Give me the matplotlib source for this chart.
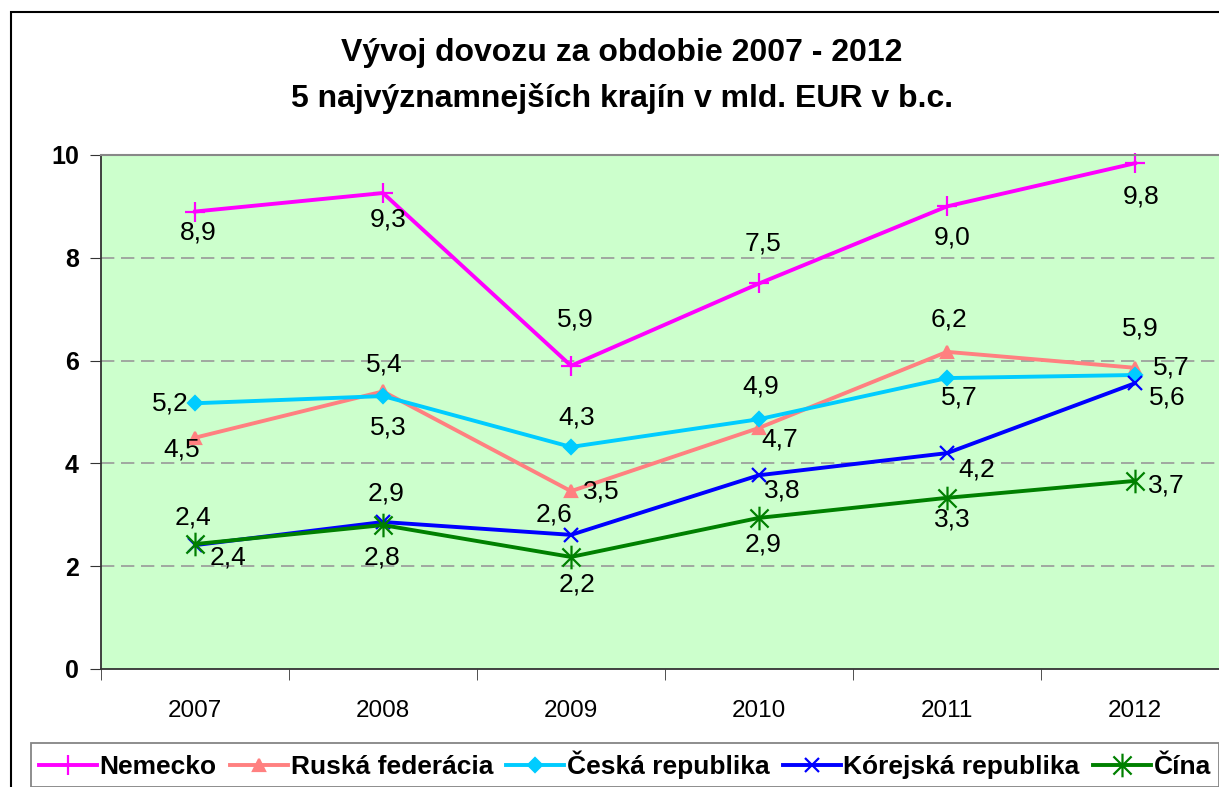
import matplotlib
matplotlib.use("Agg")
import matplotlib.pyplot as plt
import matplotlib.patches as mpatches
from matplotlib.path import Path
import numpy as np

plt.rcParams['font.family'] = ['Liberation Sans', 'DejaVu Sans']

# data
years = ['2007', '2008', '2009', '2010', '2011', '2012']
nemecko = [8.9, 9.26, 5.9, 7.5, 9.0, 9.84]
ruska = [4.5, 5.4, 3.46, 4.69, 6.17, 5.86]
ceska = [5.17, 5.31, 4.32, 4.86, 5.66, 5.72]
korea = [2.41, 2.86, 2.61, 3.77, 4.2, 5.56]
cina = [2.43, 2.8, 2.18, 2.94, 3.33, 3.66]

# label offsets in pixels (dx, dy) for each point
off_nemecko = [(3, -21), (5, -26), (4, 46), (4, 40), (5, -31), (6, -33)]
off_ruska = [(-13, -12), (1, 27), (30, 0), (21, -12), (2, 32), (5, 39)]
off_ceska = [(-25, 0), (5, -31), (6, 29), (2, 33), (12, -19), (36, 7)]
off_korea = [(-2, 28), (3, 28), (-17, 20), (23, -15), (30, -16), (32, -14)]
off_cina = [(33, -13), (-1, -32), (6, -28), (4, -27), (5, -22), (31, -5)]

# asterisk marker like Excel: X plus vertical bar
star = Path([(-1, -1), (1, 1), (-1, 1), (1, -1), (0, -1.3), (0, 1.3)],
            [Path.MOVETO, Path.LINETO, Path.MOVETO, Path.LINETO, Path.MOVETO, Path.LINETO])

series = [
    ('Nemecko', nemecko, '#FF00FF', '+', 15, off_nemecko),
    ('Ruská federácia', ruska, '#FF8080', '^', 9, off_ruska),
    ('Česká republika', ceska, '#00CCFF', 'D', 7, off_ceska),
    ('Kórejská republika', korea, '#0000FF', 'x', 10, off_korea),
    ('Čína', cina, '#008000', star, 17, off_cina),
]

fig = plt.figure(figsize=(12.19, 7.87), dpi=100)
ax = fig.add_axes([101/1219, 118/787, 1128/1219, 514/787])
ax.set_facecolor('#CCFFCC')

x = np.arange(len(years))
for name, vals, col, mk, ms, offs in series:
    ax.plot(x, vals, color=col, lw=2.8, marker=mk, markersize=ms,
            markeredgewidth=1.6, markerfacecolor=col, markeredgecolor=col,
            label=name, clip_on=False)
    for xi, v, (dx, dy) in zip(x, vals, offs):
        ax.annotate(f"{v:.1f}".replace('.', ','), (xi, v), xytext=(dx, dy),
                    textcoords='offset pixels', ha='center', va='center',
                    fontsize=19, color='black')

ax.set_xlim(-0.5, len(years) - 0.5)
ax.set_ylim(0, 10)
ax.set_yticks([0, 2, 4, 6, 8, 10])
ax.set_yticklabels(['0', '2', '4', '6', '8', '10'], fontweight='bold', fontsize=18)
ax.set_xticks(x)
ax.set_xticklabels(years, fontsize=17.5)
ax.set_xticks(np.arange(-0.5, len(years)), minor=True)
ax.tick_params(axis='x', which='major', length=0, pad=22)
ax.tick_params(axis='x', which='minor', length=8, direction='out', color='#333333')
ax.tick_params(axis='y', length=8, direction='out', color='#333333', pad=8)
for yv in [2, 4, 6, 8]:
    ax.axhline(yv, color='#999999', lw=1.2, dashes=(8, 4), zorder=0.5)
for s in ['left', 'bottom']:
    ax.spines[s].set_color('#333333')
    ax.spines[s].set_linewidth(1.3)
ax.spines['top'].set_color('#888888')
ax.spines['top'].set_linewidth(1.5)
ax.spines['right'].set_visible(False)

fig.text(622/1219, 1 - 53/787, 'Vývoj dovozu za obdobie 2007 - 2012',
         ha='center', va='center', fontsize=23, fontweight='bold')
fig.text(622/1219, 1 - 98/787, '5 najvýznamnejších krajín v mld. EUR v b.c.',
         ha='center', va='center', fontsize=23, fontweight='bold')

fig.patches.append(mpatches.Rectangle((11/1219, -0.1), 2, 1 - 12/787 + 0.1,
                                      transform=fig.transFigure, fill=False,
                                      edgecolor='black', lw=1.5))

leg = fig.legend(loc='upper left', bbox_to_anchor=(31/1219, 1 - 743/787), ncol=5,
                 frameon=True, fancybox=False, edgecolor='#666666',
                 prop={'weight': 'bold', 'size': 19}, handlelength=2.2,
                 handletextpad=0.1, columnspacing=0.5, borderaxespad=0,
                 borderpad=0.3)
leg.get_frame().set_linewidth(1.3)

fig.savefig('out.png', dpi=100)
